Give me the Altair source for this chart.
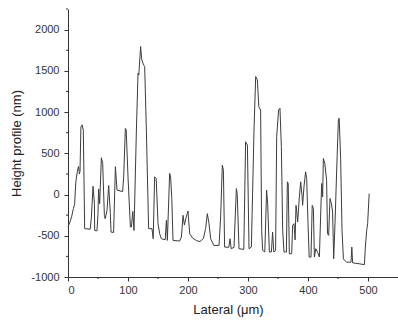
import altair as alt
import pandas as pd

lateral = [0, 3, 6, 9, 11, 13, 15.5, 17.5, 19, 20, 21.5, 23.5, 25.5, 27.8, 37, 39, 41.7, 44, 44.5, 48.3,
           50, 51, 52.8, 55.6, 57.8, 60.6, 62, 65, 67.8, 70.6, 71.7, 76, 79, 81.7, 91, 92.8, 95.6, 97, 100, 104,
           105.6, 108, 110, 114, 116.7, 118, 121, 123, 126, 127.8, 130.6, 134.4, 140, 142, 144.4, 147, 150, 152.8, 155.6, 162,
           164, 165.6, 169.4, 171, 173, 175, 186, 189, 191.7, 194, 197, 200, 202.8, 208, 214.4, 220, 225.6, 229.4, 232.2, 235,
           237.8, 243, 251.7, 254.4, 257.2, 259, 261, 268, 270, 272, 276.7, 280.6, 282, 285, 293, 296, 299, 301.7, 305.6, 310,
           312.8, 315.6, 318, 321, 322.8, 324.4, 328, 331, 332.8, 335.6, 339, 341, 343, 346, 347.8, 351, 353.3, 355.6, 357.8, 360,
           364, 365.6, 367, 368.9, 372.8, 374.4, 376.7, 378.5, 380, 381, 382.8, 385.6, 387.8, 390, 391, 393.3, 396, 397.8, 400, 402,
           405, 407, 409, 410.6, 413, 416, 419, 421, 422.8, 424.4, 425.6, 428, 431, 432.5, 434.4, 436.7, 439, 441, 442.8, 445,
           447.8, 450.6, 452, 454.4, 456.7, 459, 461, 464.4, 471.7, 473, 474.4, 485.6, 494, 495.6, 497.8, 499.4, 502]
height = [-390, -340, -270, -170, -120, 150, 280, 340, 250, 280, 820, 845, 780, -414, -420, -273, 100, -110, -436, -440,
          -233, 68, -110, 446, 378, -252, -293, -192, 109, -233, -455, -460, 337, 54, 35, 215, 802, 782, 215, -394,
          -394, -204, -436, 782, 1471, 1450, 1795, 1633, 1572, 1552, 782, -414, -414, -536, 215, 195, -353, -475, -536, -548,
          -313, -556, 256, 215, -48, -556, -564, -516, -252, -370, -273, -200, -475, -530, -560, -570, -535, -410, -232, -353,
          -536, -617, -617, -273, 356, 296, -637, -640, -536, -657, -640, 73, 12, -657, -665, 640, 600, -657, -637, 782,
          1430, 1390, 1066, 1025, -436, -677, -697, 53, -110, -697, -697, -455, -697, -680, 701, 1025, 1046, 580, -436, -697,
          -697, 154, 134, -718, -718, -373, -353, -550, -131, -192, -333, -29, 154, -9, -131, 93, 276, 195, -353, -758,
          -758, -131, -171, -758, -657, -700, -758, -273, 134, -29, 438, 377, 174, -475, -495, -48, -110, -212, -779, -353,
          296, 904, 925, 438, -436, -779, -800, -820, -820, -637, -828, -840, -850, -637, -436, -353, 12]

x_major = [0, 100, 200, 300, 400, 500]
x_minor = [50, 150, 250, 350, 450]
y_major = [-1000, -500, 0, 500, 1000, 1500, 2000]
y_minor = [-750, -250, 250, 750, 1250, 1750, 2250]

df = pd.DataFrame({"x": lateral, "y": height, "i": range(len(lateral))})
dfx = pd.DataFrame({"x": x_minor})
dfy = pd.DataFrame({"y": y_minor})

FONT = "Liberation Sans"
xs = alt.Scale(domain=[0, 550], nice=False, zero=False)
ys = alt.Scale(domain=[-1000, 2250], nice=False, zero=False)

line = alt.Chart(df).mark_line(color="#3c3c3c", strokeWidth=1).encode(
    x=alt.X("x:Q", scale=xs, axis=alt.Axis(values=x_major, title="Lateral (μm)", tickSize=4,
                                            labelPadding=3, titleX=160, titleY=36,
                                            labelExpr="'' + datum.value",
                                            titleBaseline="alphabetic")),
    y=alt.Y("y:Q", scale=ys, axis=alt.Axis(values=y_major, title="Height profile (nm)", tickSize=4,
                                            labelPadding=5, titleX=-48, titleY=134,
                                            labelExpr="'' + datum.value",
                                            titleBaseline="alphabetic")),
    order="i:Q",
)

xminor = alt.Chart(dfx).mark_rule(color="#333", strokeWidth=1).encode(
    x=alt.X("x:Q", scale=xs), y=alt.value(268), y2=alt.value(270)
)
yminor = alt.Chart(dfy).mark_rule(color="#333", strokeWidth=1).encode(
    y=alt.Y("y:Q", scale=ys), x=alt.value(0), x2=alt.value(-2)
)

chart = alt.layer(line, xminor, yminor).properties(
    width=330, height=268,
    autosize=alt.AutoSizeParams(type="none"),
    padding={"left": 68, "top": 9, "right": 0, "bottom": 45},
).configure_view(stroke=None).configure_axis(
    grid=False, domainColor="#333", tickColor="#333", labelColor="#333", titleColor="#222",
    labelFont=FONT, titleFont=FONT, labelFontSize=11, titleFontSize=13, titleFontWeight="normal",
    domainWidth=1, tickWidth=1,
)

chart.save("out.html", embed_options={"renderer": "svg", "actions": False})
